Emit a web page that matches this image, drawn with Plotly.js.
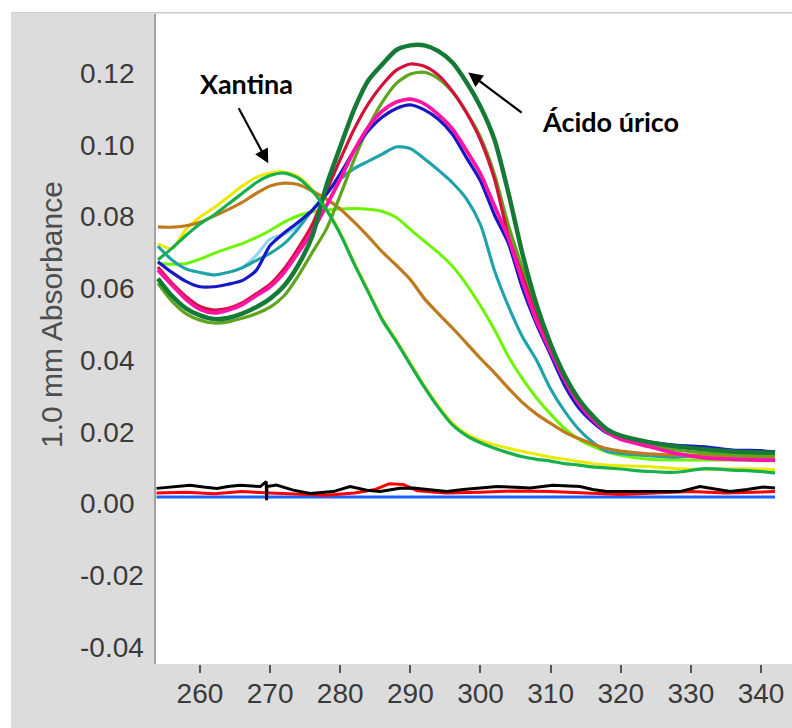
<!DOCTYPE html>
<html>
<head>
<meta charset="utf-8">
<script src="https://cdn.plot.ly/plotly-3.0.1.min.js"></script>
<style>
  html, body { margin: 0; padding: 0; background: #ffffff; width: 792px; height: 728px; overflow: hidden; }
  #topline { position: absolute; left: 11px; top: 12px; width: 781px; height: 1px; background: #cfcfcf; }
  #chart { position: absolute; left: 11px; top: 13px; width: 781px; height: 715px; }
</style>
</head>
<body>
<div id="topline"></div>
<div id="chart"></div>
<script>
// ---------------- data ----------------
const wavelength = [254,256,258,260,262,264,266,268,270,272,274,276,278,280,282,284,286,288,290,292,294,296,298,300,302,304,306,308,310,312,314,316,318,320,324,328,332,336,340,342];

const xantina = [.0680,.0712,.0748,.0780,.0805,.0835,.0865,.0895,.0915,.0922, .0908,.0872,.0820,.0752,.0668,.0590,.0512,.0452,.0388,.0325, .0268,.0220,.0190,.0170,.0155,.0142,.0131,.0124,.0119,.0112, .0108,.0103,.0100,.0097,.0090,.0088,.0098,.0094,.0090,.0086];
const yellowSeries = [.0725,.0712,.0765,.0800,.0825,.0855,.0885,.0910,.0922,.0925, .0912,.0876,.0824,.0756,.0672,.0594,.0516,.0456,.0392,.0329, .0273,.0225,.0195,.0177,.0165,.0155,.0146,.0138,.0130,.0124, .0118,.0112,.0108,.0106,.0104,.0098,.0096,.0098,.0097,.0095];
const brownSeries = [.0772,.0771,.0775,.0785,.0802,.0820,.0840,.0865,.0886,.0894, .0890,.0872,.0850,.0822,.0785,.0745,.0702,.0665,.0625,.0572, .0530,.0490,.0448,.0405,.0365,.0322,.0282,.0250,.0224,.0200, .0182,.0167,.0154,.0147,.0139,.0136,.0136,.0134,.0132,.0130];
const limeSeries = [.0670,.0668,.0670,.0682,.0698,.0712,.0725,.0742,.0762,.0785, .0803,.0814,.0819,.0822,.0823,.0821,.0815,.0798,.0765,.0732, .0700,.0662,.0612,.0552,.0485,.0410,.0348,.0295,.0250,.0210, .0180,.0160,.0145,.0135,.0124,.0122,.0122,.0122,.0120,.0120];
const tealSeries = [.0718,.0680,.0655,.0645,.0638,.0645,.0658,.0678,.0698,.0725, .0767,.0818,.0866,.0905,.0935,.0955,.0975,.0995,.0990,.0962, .0930,.0895,.0850,.0778,.0650,.0550,.0465,.0400,.0320,.0258, .0208,.0172,.0146,.0140,.0134,.0130,.0136,.0132,.0128,.0128];
const lightBlueSeries = [.0718,.0680,.0655,.0645,.0638,.0645,.0658,.0692,.0738,.0752, .0775,.0818,.0866,.0905,.0935,.0955,.0975,.0995,.0990,.0962, .0930,.0895,.0850,.0778,.0650,.0550,.0465,.0400,.0320,.0258, .0208,.0172,.0146,.0140,.0134,.0130,.0136,.0132,.0128,.0128];
const blueSeries = [.0675,.0645,.0620,.0605,.0605,.0612,.0622,.0650,.0720,.0755, .0785,.0818,.0862,.0920,.0985,.1040,.1078,.1102,.1112,.1098, .1072,.1030,.0965,.0900,.0805,.0725,.0600,.0500,.0415,.0330, .0268,.0228,.0198,.0186,.0172,.0163,.0159,.0150,.0148,.0145];
const magentaSeries = [.0652,.0610,.0570,.0542,.0532,.0540,.0555,.0580,.0605,.0645, .0700,.0760,.0830,.0905,.0985,.1050,.1095,.1120,.1128,.1115, .1085,.1045,.0985,.0920,.0830,.0740,.0620,.0510,.0425,.0345, .0280,.0235,.0200,.0180,.0160,.0140,.0128,.0124,.0122,.0122];
const redSeries = [.0660,.0615,.0578,.0550,.0540,.0545,.0560,.0585,.0612,.0655, .0712,.0778,.0870,.0960,.1045,.1115,.1168,.1209,.1226,.1220, .1195,.1150,.1090,.1014,.0905,.0745,.0635,.0520,.0420,.0340, .0278,.0235,.0205,.0188,.0172,.0160,.0152,.0148,.0145,.0144];
const oliveSeries = [.0615,.0565,.0530,.0512,.0504,.0507,.0517,.0530,.0548,.0580, .0635,.0700,.0765,.0860,.0960,.1050,.1120,.1172,.1198,.1203, .1185,.1148,.1092,.1022,.0918,.0775,.0655,.0535,.0435,.0352, .0285,.0238,.0203,.0184,.0165,.0150,.0142,.0138,.0135,.0135];
const acidoUrico = [.0628,.0580,.0545,.0525,.0515,.0518,.0530,.0548,.0572,.0608, .0665,.0745,.0885,.0995,.1100,.1180,.1225,.1265,.1278,.1278, .1262,.1230,.1175,.1107,.1015,.0865,.0696,.0555,.0445,.0358, .0292,.0245,.0208,.0190,.0172,.0160,.0152,.0146,.0143,.0142];

const blackBaseNm = [253.8,256,258.6,260.5,262.4,264,265.7,268.6,269.45,269.5,269.55,270.9,273.3,275.7,279,281.4,283.8,285.7,288.5,290.4,292.5,295.2,297.5,299.9,302.4,305,307.1,310.3,314.2,316,318,321,323.7,326,328.4,331.3,333.5,335.6,338,340.3,342];
const blackBase = [.0043,.0047,.0052,.0047,.0043,.0048,.0052,.0048,.0062,.0010,.0048,.0052,.0038,.0029,.0034,.0048,.0038,.0034,.0043,.0044,.0040,.0034,.0040,.0044,.0048,.0046,.0044,.0052,.0048,.0040,.0034,.0034,.0034,.0034,.0034,.0048,.0040,.0034,.0040,.0047,.0044];
const redBaseNm = [253.8,258,262,266,270,274,278,282,285,287,289,291,295,300,305,310,315,320,325,330,335,340,342];
const redBase = [.0030,.0032,.0028,.0034,.0030,.0026,.0024,.0030,.0040,.0056,.0054,.0036,.0030,.0032,.0036,.0034,.0030,.0026,.0030,.0034,.0030,.0032,.0034];
const blueBaseNm = [253.8,342];
const blueBase = [.0019,.0019];

const yTickValues = [-0.04,-0.02,0.00,0.02,0.04,0.06,0.08,0.10,0.12];
const yTickLabels = ['-0.04','-0.02','0.00','0.02','0.04','0.06','0.08','0.10','0.12'];
const xTickValues = [260,270,280,290,300,310,320,330,340];
const xTickLabels = ['260','270','280','290','300','310','320','330','340'];

// ---------------- traces ----------------
function spec(x, y, color, width, shape) {
  return { x: x, y: y, type: 'scatter', mode: 'lines', hoverinfo: 'skip',
           line: { color: color, width: width, shape: shape || 'spline', smoothing: 0.7 } };
}
const traces = [
  spec(wavelength, yellowSeries, '#eaea00', 3),
  spec(wavelength, lightBlueSeries, '#8fd3f5', 3),
  spec(wavelength, limeSeries, '#6cf500', 3),
  spec(wavelength, tealSeries, '#1fa3a6', 3),
  spec(wavelength, brownSeries, '#bf7a1e', 3.2),
  spec(wavelength, oliveSeries, '#5ea41c', 3.2),
  spec(wavelength, redSeries, '#d3123c', 3.2),
  spec(wavelength, blueSeries, '#1717c4', 3.2),
  spec(wavelength, magentaSeries, '#ff14a6', 3.8),
  spec(wavelength, acidoUrico, '#147a35', 4.5),
  spec(wavelength, xantina, '#17b04d', 3.2),
  spec(blueBaseNm, blueBase, '#1e64ff', 3, 'linear'),
  spec(redBaseNm, redBase, '#ff0000', 3, 'linear'),
  spec(blackBaseNm, blackBase, '#000000', 3, 'linear')
];

// ---------------- annotations ----------------
const tickFont = { family: 'Liberation Sans, Arial, sans-serif', size: 28, color: '#3a3a3a' };
const annotations = [];
yTickValues.forEach(function (v, i) {
  annotations.push({ xref: 'paper', yref: 'y', x: -0.1226, y: v, xanchor: 'left', yanchor: 'middle',
                     text: yTickLabels[i], showarrow: false, font: tickFont });
});
annotations.push({ xref: 'paper', yref: 'paper', x: -0.1635, y: 0.537, textangle: -90,
                   xanchor: 'center', yanchor: 'middle', text: '1.0 mm Absorbance', showarrow: false,
                   font: { family: 'Liberation Sans, Arial, sans-serif', size: 30, color: '#4d4d4d' } });
const labelFont = { family: 'Lato, Open Sans, sans-serif', size: 27, color: '#000000', weight: 700 };
annotations.push({ xref: 'x', yref: 'y', x: 266.70, y: 0.1172, text: '<b>Xantina</b>', showarrow: false,
                   xanchor: 'center', yanchor: 'middle', font: labelFont });
annotations.push({ xref: 'x', yref: 'y', x: 318.54, y: 0.1067, text: '<b>Ácido úrico</b>', showarrow: false,
                   xanchor: 'center', yanchor: 'middle', font: labelFont });
annotations.push({ xref: 'x', yref: 'y', x: 269.74, y: 0.0949, axref: 'x', ayref: 'y', ax: 265.10, ay: 0.1118,
                   text: ' ', showarrow: true, arrowhead: 2, arrowsize: 1.3, arrowwidth: 2.2, arrowcolor: '#000000' });
annotations.push({ xref: 'x', yref: 'y', x: 298.26, y: 0.1202, axref: 'x', ayref: 'y', ax: 306.30, ay: 0.1084,
                   text: ' ', showarrow: true, arrowhead: 2, arrowsize: 1.3, arrowwidth: 2.2, arrowcolor: '#000000' });

const layout = {
  width: 781, height: 715,
  margin: { l: 145, r: 0, t: 1, b: 64, pad: 0 },
  paper_bgcolor: '#dcdcdc',
  plot_bgcolor: '#ffffff',
  showlegend: false,
  xaxis: {
    range: [253.73, 344.42], showgrid: false, zeroline: false, showline: false,
    tickmode: 'array', tickvals: xTickValues, ticktext: xTickLabels,
    ticks: 'outside', ticklen: 8, tickwidth: 2, tickcolor: '#555555',
    tickfont: tickFont, ticklabelstandoff: -4
  },
  yaxis: {
    range: [-0.04466, 0.13654], showgrid: false, zeroline: false,
    showline: true, linecolor: '#a3a3a3', linewidth: 2,
    tickmode: 'array', tickvals: yTickValues, showticklabels: false, ticks: ''
  },
  annotations: annotations
};

Plotly.newPlot('chart', traces, layout, { staticPlot: true, displayModeBar: false });
</script>
</body>
</html>
